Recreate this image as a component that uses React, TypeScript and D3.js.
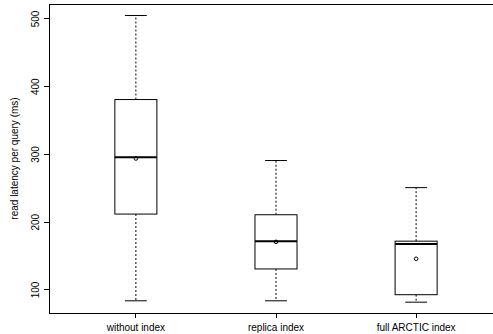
import React from "react";
import * as d3 from "d3";

const categories = ["without index", "replica index", "full ARCTIC index"];
const whiskerLow = [84, 84, 82];
const q1 = [212, 131, 93];
const median = [296, 172, 168];
const q3 = [381, 211, 172];
const whiskerHigh = [505, 291, 251];
const mean = [294, 171, 146];
const yTicks = [100, 200, 300, 400, 500];

const W = 493;
const H = 334;

const App = () => {
  const x = d3.scaleLinear().domain([0.38, 3.62]).range([49, 503]);
  const y = d3.scaleLinear().domain([66, 522]).range([313, 4]);
  const unit = x(1) - x(0);
  const boxHalf = 0.15 * unit;
  const capHalf = 0.078 * unit;
  const font = "'Liberation Sans', Arial, Helvetica, sans-serif";

  return (
    <svg width={W} height={H} style={{ position: "absolute", left: 0, top: 0 }} fontFamily={font}>
      <rect x={0} y={0} width={W} height={H} fill="#fff" />
      {/* frame */}
      <rect x={x(0.38)} y={y(522)} width={x(3.62) - x(0.38)} height={y(66) - y(522)}
        fill="none" stroke="#000" strokeWidth={1} shapeRendering="crispEdges" />

      {/* y axis */}
      {yTicks.map(t => (
        <g key={t}>
          <line x1={44} x2={49} y1={y(t)} y2={y(t)} stroke="#000" shapeRendering="crispEdges" />
          <text transform={`translate(38.5,${y(t)}) rotate(-90)`} textAnchor="middle" fontSize={10}>{t}</text>
        </g>
      ))}
      <text transform={`translate(17.5,${(y(66) + y(522)) / 2}) rotate(-90)`} textAnchor="middle" fontSize={10}>
        read latency per query (ms)
      </text>

      {/* x axis */}
      {categories.map((c, i) => (
        <g key={c}>
          <line x1={x(i + 1)} x2={x(i + 1)} y1={313} y2={318} stroke="#000" shapeRendering="crispEdges" />
          <text x={x(i + 1)} y={331} textAnchor="middle" fontSize={10}>{c}</text>
        </g>
      ))}

      {/* boxes */}
      {categories.map((c, i) => {
        const cx = x(i + 1);
        return (
          <g key={"b" + c} stroke="#000" fill="none">
            <line x1={cx} x2={cx} y1={y(q3[i])} y2={y(whiskerHigh[i])} strokeDasharray="2,2" />
            <line x1={cx} x2={cx} y1={y(q1[i])} y2={y(whiskerLow[i])} strokeDasharray="2,2" />
            <line x1={cx - capHalf} x2={cx + capHalf} y1={y(whiskerHigh[i])} y2={y(whiskerHigh[i])} />
            <line x1={cx - capHalf} x2={cx + capHalf} y1={y(whiskerLow[i])} y2={y(whiskerLow[i])} />
            <rect x={cx - boxHalf} y={y(q3[i])} width={2 * boxHalf} height={y(q1[i]) - y(q3[i])} fill="#fff" />
            <line x1={cx - boxHalf} x2={cx + boxHalf} y1={y(median[i])} y2={y(median[i])} strokeWidth={2} />
            <circle cx={cx} cy={y(mean[i])} r={1.8} strokeWidth={1} />
          </g>
        );
      })}
    </svg>
  );
};

export default App;
